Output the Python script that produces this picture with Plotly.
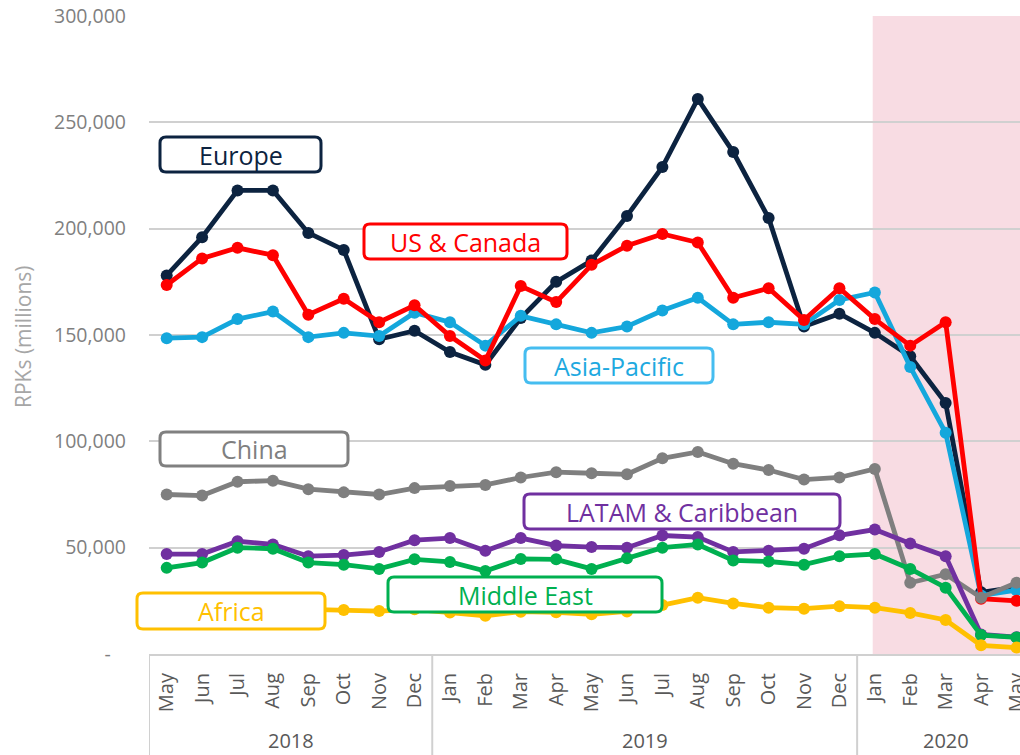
import plotly.graph_objects as go

# ---------------- data ----------------
months = ["May", "Jun", "Jul", "Aug", "Sep", "Oct", "Nov", "Dec",
          "Jan", "Feb", "Mar", "Apr", "May", "Jun", "Jul", "Aug", "Sep", "Oct", "Nov", "Dec",
          "Jan", "Feb", "Mar", "Apr", "May"]
years = ["2018", "2019", "2020"]
year_counts = [8, 12, 5]

europe = [178000, 196000, 218000, 218000, 198000, 190000, 148000, 152000,
          142000, 136000, 158000, 175000, 185000, 206000, 229000, 261000, 236000, 205000, 154000, 160000,
          151000, 140000, 118000, 29000, 31500]
us_canada = [173500, 186000, 191000, 187500, 159500, 167000, 156000, 164000,
             149500, 138000, 173000, 165500, 183000, 192000, 197500, 193500, 167500, 172000, 157000, 172000,
             157500, 145000, 156000, 26000, 25000]
asia_pacific = [148500, 149000, 157500, 161000, 149000, 151000, 149500, 160500,
                156000, 145000, 159000, 155000, 151000, 154000, 161500, 167500, 155000, 156000, 155000, 166500,
                170000, 135000, 104000, 27500, 30000]
china = [75000, 74500, 81000, 81500, 77500, 76000, 75000, 78000,
         79000, 79500, 83000, 85500, 85000, 84500, 92000, 95000, 89500, 86500, 82000, 83000,
         87000, 33500, 37500, 26500, 33500]
latam = [47000, 47000, 53000, 51500, 46000, 46500, 48000, 53500,
         54500, 48500, 54500, 51000, 50300, 50000, 55700, 55000, 48000, 48500, 49500, 55800,
         58500, 52000, 46000, 9200, 7900]
middle_east = [40500, 43000, 50000, 49500, 43000, 42000, 40000, 44500,
               43300, 39000, 44700, 44500, 40000, 45000, 50000, 51500, 44000, 43500, 42000, 46000,
               47000, 40000, 31200, 8900, 7800]
africa = [20500, 21000, 21500, 21500, 21000, 20700, 20200, 21000,
          19500, 18000, 19900, 19600, 18700, 20000, 23000, 26500, 23800, 21800, 21300, 22500,
          21800, 19300, 16000, 4100, 3000]

y_ticks = [0, 50000, 100000, 150000, 200000, 250000, 300000]
y_ticktext = ["-\u00a0\u00a0\u00a0", "50,000", "100,000", "150,000", "200,000", "250,000", "300,000"]

# ---------------- styling ----------------
FONT = "Open Sans"
W, H = 1020, 755
ML, MR, MT, MB = 149, 0, 16, 101
PW, PH = W - ML - MR, H - MT - MB

series = [
    ("Europe", europe, "#0c2340"),
    ("Asia-Pacific", asia_pacific, "#14a7dc"),
    ("US & Canada", us_canada, "#ff0000"),
    ("China", china, "#7f7f7f"),
    ("LATAM & Caribbean", latam, "#7030a0"),
    ("Middle East", middle_east, "#00b050"),
    ("Africa", africa, "#ffc000"),
]

x_idx = list(range(len(months)))

fig = go.Figure()
for name, vals, col in series:
    fig.add_trace(go.Scatter(
        x=x_idx, y=vals, name=name, mode="lines+markers",
        line=dict(color=col, width=4.8),
        marker=dict(color=col, size=12),
        cliponaxis=True,
    ))


def px2paper(px, py):
    return ((px - ML) / PW, (MT + PH - py) / PH)


def rounded_box(x0, y0, x1, y1, r=6):
    def P(px, py):
        X, Y = px2paper(px, py)
        return f"{X:.5f},{Y:.5f}"
    return (f"M {P(x0 + r, y0)} L {P(x1 - r, y0)} Q {P(x1, y0)} {P(x1, y0 + r)} "
            f"L {P(x1, y1 - r)} Q {P(x1, y1)} {P(x1 - r, y1)} "
            f"L {P(x0 + r, y1)} Q {P(x0, y1)} {P(x0, y1 - r)} "
            f"L {P(x0, y0 + r)} Q {P(x0, y0)} {P(x0 + r, y0)} Z")


labels = [
    ("Europe", (160, 137, 321, 172), "#0c2340", "#0c2340"),
    ("US & Canada", (364, 224, 567, 259), "#ff0000", "#ff0000"),
    ("Asia-Pacific", (525, 348, 713, 383), "#45bdf0", "#1ea9e0"),
    ("China", (160, 432, 348, 466), "#808080", "#7f7f7f"),
    ("LATAM & Caribbean", (524, 494, 840, 529), "#7030a0", "#7030a0"),
    ("Middle East", (388, 577, 662, 612), "#00b050", "#00b050"),
    ("Africa", (137, 593, 325, 629), "#ffc000", "#ffc000"),
]

shapes = []
annotations = []

# shaded 2020 period
shapes.append(dict(type="rect", xref="x", yref="y", x0=19.94, x1=25, y0=0, y1=300000,
                   fillcolor="#f8dce3", line=dict(width=0), layer="below"))

# label boxes
for text, (x0, y0, x1, y1), bcol, tcol in labels:
    shapes.append(dict(type="path", xref="paper", yref="paper", path=rounded_box(x0, y0, x1, y1),
                       fillcolor="white", line=dict(color=bcol, width=3), layer="above"))
    cx, cy = px2paper((x0 + x1) / 2, (y0 + y1) / 2)
    annotations.append(dict(x=cx, y=cy, xref="paper", yref="paper", text=text, showarrow=False,
                            xanchor="center", yanchor="middle",
                            font=dict(family=FONT, size=25, color=tcol)))

# category group dividers on x axis
bottom = -MB / PH
start = 0
div_positions = [-0.5]
for c in year_counts:
    start += c
    div_positions.append(start - 0.5)
for xd in div_positions[:-1]:
    shapes.append(dict(type="line", xref="x", yref="paper", x0=xd, x1=xd, y0=0, y1=bottom,
                       line=dict(color="#d0d0d0", width=2), layer="above"))

# year labels
start = 0
for yr, c in zip(years, year_counts):
    center = start + (c - 1) / 2
    annotations.append(dict(x=center, y=(MT + PH - 740) / PH, xref="x", yref="paper", text=yr,
                            showarrow=False, xanchor="center", yanchor="middle",
                            font=dict(family=FONT, size=20, color="#595959")))
    start += c

# y axis title
annotations.append(dict(x=(23 - ML) / PW, y=(MT + PH - 337) / PH, xref="paper", yref="paper",
                        text="RPKs (millions)", textangle=-90, showarrow=False,
                        xanchor="center", yanchor="middle",
                        font=dict(family=FONT, size=21, color="#a6a6a6")))

fig.update_layout(
    width=W, height=H,
    margin=dict(l=ML, r=MR, t=MT, b=MB, autoexpand=False),
    paper_bgcolor="white", plot_bgcolor="white",
    showlegend=False,
    font=dict(family=FONT),
    shapes=shapes, annotations=annotations,
    xaxis=dict(
        range=[-0.5, 24.1], tickmode="array", tickvals=x_idx, ticktext=months,
        tickangle=-90, tickfont=dict(family=FONT, size=20, color="#595959"),
        showgrid=False, zeroline=False, showline=True, linecolor="#d0d0d0", linewidth=2,
        ticks="", ticklabelstandoff=9, ticklabeloverflow="allow", fixedrange=True,
    ),
    yaxis=dict(
        range=[0, 300000], tickmode="array", tickvals=y_ticks, ticktext=y_ticktext,
        tickfont=dict(family=FONT, size=19.5, color="#7f7f7f"),
        showgrid=True, gridcolor="#d0d0d0", gridwidth=2, zeroline=False, showline=False,
        ticks="", ticklabelstandoff=22, fixedrange=True,
    ),
)

fig.write_html("out.html", config={"displayModeBar": False},
               post_script="document.body.style.margin='0';document.body.style.overflow='hidden';")
